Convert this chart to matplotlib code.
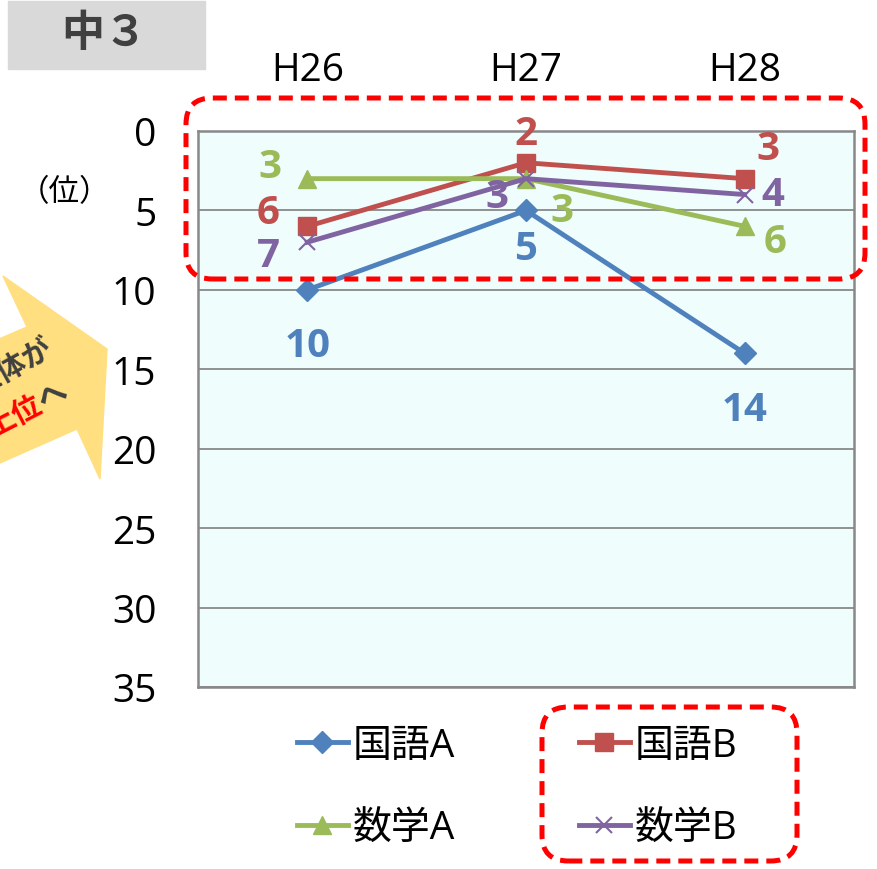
import matplotlib.pyplot as plt
from matplotlib.patches import FancyBboxPatch, Rectangle, Polygon
import numpy as np

plt.rcParams['font.family'] = ['Open Sans', 'Noto Sans CJK JP', 'DejaVu Sans']

# data
years = ['H26', 'H27', 'H28']
kokugo_a = [10, 5, 14]
kokugo_b = [6, 2, 3]
sugaku_a = [3, 3, 6]
sugaku_b = [7, 3, 4]
y_ticks = [0, 5, 10, 15, 20, 25, 30, 35]

W, H = 877, 870
fig = plt.figure(figsize=(W / 100, H / 100), dpi=100)

def fx(px):
    return px / W

def fy(py):
    return 1 - py / H

# plot area
ax = fig.add_axes([fx(198), fy(688), fx(854) - fx(198), fy(132) - fy(688)])
ax.set_facecolor('#F0FDFD')
x = np.arange(len(years))

series = [
    ('国語A', kokugo_a, '#4F81BD', 'D', 11, 1),
    ('国語B', kokugo_b, '#C0504D', 's', 13, 1),
    ('数学A', sugaku_a, '#9BBB59', '^', 13, 1),
    ('数学B', sugaku_b, '#8064A2', 'x', 12, 1.5),
]
handles = {}
for name, vals, col, mk, ms, mew in series:
    ln, = ax.plot(x, vals, color=col, lw=3.5, marker=mk, markersize=ms,
                  markeredgewidth=mew, markeredgecolor=col, label=name, zorder=3)
    handles[name] = ln

# label offsets in pixels (per series, per year)
offsets = {
    '国語A': [(0, -56), (0, -38), (0, -56)],
    '国語B': [(-39, 14), (0, 29), (23, 30)],
    '数学A': [(-37, 12), (36, -32), (30, -15)],
    '数学B': [(-39, -13), (-29, -18), (28, 0)],
}
for name, vals, col, mk, ms, mew in series:
    for i, v in enumerate(vals):
        ax.annotate(str(v), (x[i], v), xytext=offsets[name][i], textcoords='offset pixels',
                    ha='center', va='center', fontsize=29, fontweight='bold', color=col,
                    zorder=5)

ax.set_xlim(-0.5, 2.5)
ax.set_ylim(35, 0)
ax.set_yticks(y_ticks)
ax.set_xticks(x)
ax.set_xticklabels(years)
ax.xaxis.tick_top()
ax.tick_params(axis='x', length=0, pad=30, labelsize=28)
ax.tick_params(axis='y', length=0, pad=30, labelsize=28)
ax.grid(axis='y', color='#888888', lw=1.3)
ax.set_axisbelow(True)
for s in ax.spines.values():
    s.set_color('#888888')
    s.set_linewidth(1.8)

# legend
leg = fig.legend([handles['国語A'], handles['数学A'], handles['国語B'], handles['数学B']],
                 ['国語A', '数学A', '国語B', '数学B'], ncol=2, frameon=False,
                 loc='center', bbox_to_anchor=(fx(517), fy(788)), fontsize=28,
                 handlelength=1.3, handletextpad=0.12, columnspacing=3.2, labelspacing=1.15)

# red dashed boxes
for (x0, y0, x1, y1) in [(186, 99, 865, 280), (542, 708, 797, 862)]:
    fig.patches.append(FancyBboxPatch((fx(x0), fy(y1)), fx(x1) - fx(x0), fy(y0) - fy(y1),
                                      boxstyle='round,pad=0,rounding_size=0.03',
                                      transform=fig.transFigure, fill=False,
                                      edgecolor='#FF0000', lw=3.6,
                                      linestyle=(0, (2.8, 1.6)), zorder=10))

# grey title box
fig.patches.append(Rectangle((fx(8), fy(70)), fx(205) - fx(8), fy(2) - fy(70),
                             transform=fig.transFigure, color='#D9D9D9', zorder=1))
fig.text(fx(104), fy(34), '中３', ha='center', va='center', fontsize=31,
         fontweight='bold', color='#404040', zorder=2)

# unit
fig.text(fx(64), fy(193), '（位）', ha='center', va='center', fontsize=22)

# yellow arrow (partly cut off at left edge)
arrow_pts = [(-50, 361), (27, 328), (3, 277), (107, 350), (100, 480), (77, 430), (-50, 486)]
fig.patches.append(Polygon([(fx(a), fy(b)) for a, b in arrow_pts], closed=True,
                           transform=fig.transFigure, color='#FFDF80', zorder=1))
fig.text(fx(51), fy(347), '全体が', ha='right', va='center', rotation=29,
         rotation_mode='anchor', fontsize=21, fontweight='bold', color='#404040', zorder=2)
fig.text(fx(41), fy(404), '上位', ha='right', va='center', rotation=27,
         rotation_mode='anchor', fontsize=21, fontweight='bold', color='#FF0000', zorder=2)
fig.text(fx(41), fy(404), 'へ', ha='left', va='center', rotation=27,
         rotation_mode='anchor', fontsize=21, fontweight='bold', color='#404040', zorder=2)

fig.savefig('out.png', dpi=100)
